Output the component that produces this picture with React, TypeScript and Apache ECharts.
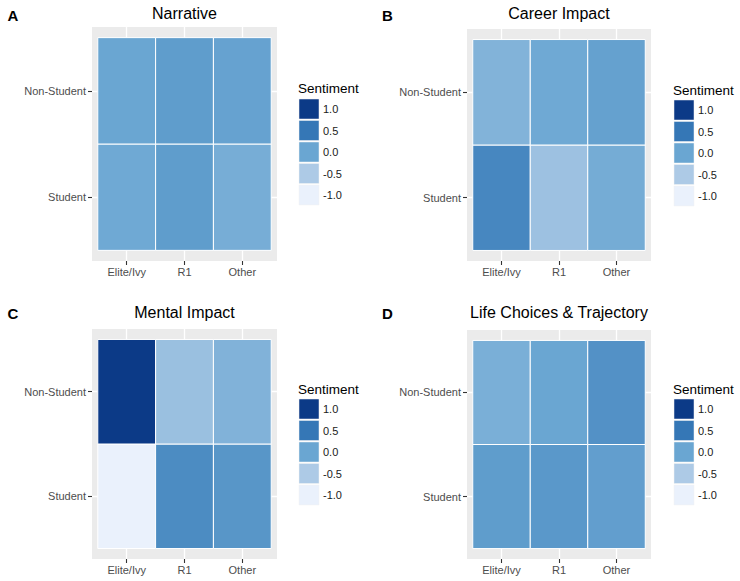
import React, { useEffect, useRef } from "react";
import * as echarts from "echarts";

const schools = ["Elite/Ivy", "R1", "Other"];
const groups = ["Student", "Non-Student"];
const panelTitles = ["Narrative", "Career Impact", "Mental Impact", "Life Choices & Trajectory"];
const panelLetters = ["A", "B", "C", "D"];
// values per panel: [Student row (Elite, R1, Other), Non-Student row (Elite, R1, Other)]
const narrativeStudent = [-0.04, 0.1, -0.1];
const narrativeNonStudent = [0.0, 0.1, 0.04];
const careerStudent = [0.33, -0.38, -0.08];
const careerNonStudent = [-0.18, -0.04, 0.05];
const mentalStudent = [-1.0, 0.28, 0.17];
const mentalNonStudent = [1.0, -0.36, -0.17];
const lifeStudent = [0.1, 0.15, 0.08];
const lifeNonStudent = [-0.12, 0.0, 0.22];
const legendValues = [1.0, 0.5, 0.0, -0.5, -1.0];
const legendLabels = ["1.0", "0.5", "0.0", "-0.5", "-1.0"];
const scaleColors = ["#eaf1fc", "#adcae6", "#6aa6d2", "#3577b6", "#0c3a87"];

const panelValues = [
  [narrativeStudent, narrativeNonStudent],
  [careerStudent, careerNonStudent],
  [mentalStudent, mentalNonStudent],
  [lifeStudent, lifeNonStudent],
];

const FONT = "'Liberation Sans', Arial, Helvetica, sans-serif";

// layout per panel
const grids = [
  { left: 92, top: 27, width: 185, height: 234 },
  { left: 467, top: 29, width: 184, height: 232 },
  { left: 92, top: 329, width: 185, height: 230 },
  { left: 467, top: 330, width: 184, height: 229 },
];
const titlePos = [
  { x: 184.5, y: 13, lx: 7.5, ly: 15 },
  { x: 559, y: 13.5, lx: 382, ly: 15 },
  { x: 184.5, y: 312.5, lx: 7.5, ly: 313.5 },
  { x: 559, y: 312.5, lx: 382, ly: 313.5 },
];
const legendPos = [
  { x: 298, y: 88, bx: 299, by: 99 },
  { x: 673, y: 90, bx: 674, by: 100 },
  { x: 298, y: 389, bx: 299, by: 399 },
  { x: 673, y: 389, bx: 674, by: 399 },
];

function colorFor(v: number): string {
  const t = (v + 1) / 2 * (scaleColors.length - 1);
  const i = Math.min(scaleColors.length - 2, Math.floor(t));
  const f = t - i;
  const a = scaleColors[i], b = scaleColors[i + 1];
  const p = (c: string, k: number) => parseInt(c.slice(1 + 2 * k, 3 + 2 * k), 16);
  const ch = [0, 1, 2].map((k) => Math.round(p(a, k) + (p(b, k) - p(a, k)) * f));
  return "rgb(" + ch.join(",") + ")";
}

export default function App() {
  const ref = useRef<HTMLDivElement>(null);
  useEffect(() => {
    if (!ref.current) return;
    const chart = echarts.init(ref.current, null, { renderer: "svg" });

    const xAxes: any[] = [];
    const yAxes: any[] = [];
    const series: any[] = [];
    const graphics: any[] = [];

    grids.forEach((g, i) => {
      xAxes.push({
        type: "value",
        gridIndex: i,
        min: 0.4,
        max: 3.6,
        axisLine: { show: false },
        axisTick: { show: true, customValues: [1, 2, 3], length: 4, lineStyle: { color: "#333333", width: 1.1 } },
        axisLabel: {
          customValues: [1, 2, 3],
          formatter: (v: number) => schools[Math.round(v) - 1] || "",
          color: "#4d4d4d",
          fontSize: 11,
          fontFamily: FONT,
          margin: 5,
        },
        splitLine: { show: true, lineStyle: { color: "#ffffff", width: 1.3 } },
      });
      yAxes.push({
        type: "value",
        gridIndex: i,
        min: 0.4,
        max: 2.6,
        axisLine: { show: false },
        axisTick: { show: true, customValues: [1, 2], length: 4, lineStyle: { color: "#333333", width: 1.1 } },
        axisLabel: {
          customValues: [1, 2],
          formatter: (v: number) => groups[Math.round(v) - 1] || "",
          color: "#4d4d4d",
          fontSize: 11,
          fontFamily: FONT,
          margin: 6,
        },
        splitLine: { show: true, lineStyle: { color: "#ffffff", width: 1.3 } },
      });
      const data: number[][] = [];
      panelValues[i].forEach((row, yi) => {
        row.forEach((v, xi) => data.push([xi + 1, yi + 1, v]));
      });
      series.push({
        type: "custom",
        xAxisIndex: i,
        yAxisIndex: i,
        encode: { x: 0, y: 1 },
        data,
        renderItem: (params: any, api: any) => {
          const x = api.value(0);
          const y = api.value(1);
          const p1 = api.coord([x - 0.5, y + 0.5]);
          const p2 = api.coord([x + 0.5, y - 0.5]);
          return {
            type: "rect",
            shape: { x: p1[0], y: p1[1], width: p2[0] - p1[0], height: p2[1] - p1[1] },
            style: { fill: api.visual("color"), stroke: "#ffffff", lineWidth: 1 },
          };
        },
      });

      const tp = titlePos[i];
      graphics.push({
        type: "text",
        x: tp.x,
        y: tp.y,
        style: { text: panelTitles[i], fill: "#000000", font: "16px " + FONT, align: "center", verticalAlign: "middle" },
      });
      graphics.push({
        type: "text",
        x: tp.lx,
        y: tp.ly,
        style: { text: panelLetters[i], fill: "#000000", font: "bold 15px " + FONT, align: "left", verticalAlign: "middle" },
      });
      const lp = legendPos[i];
      graphics.push({
        type: "text",
        x: lp.x,
        y: lp.y,
        style: { text: "Sentiment", fill: "#000000", font: "13.5px " + FONT, align: "left", verticalAlign: "middle" },
      });
      legendValues.forEach((v, k) => {
        const by = lp.by + k * 21.5;
        graphics.push({
          type: "rect",
          shape: { x: lp.bx, y: by, width: 20, height: 20 },
          style: { fill: colorFor(v), stroke: "#f2f2f2", lineWidth: 0.5 },
        });
        graphics.push({
          type: "text",
          x: lp.bx + 24,
          y: by + 10,
          style: { text: legendLabels[k], fill: "#1a1a1a", font: "11px " + FONT, align: "left", verticalAlign: "middle" },
        });
      });
    });

    chart.setOption({
      animation: false,
      backgroundColor: "#ffffff",
      grid: grids.map((g) => ({
        left: g.left,
        top: g.top,
        width: g.width,
        height: g.height,
        show: true,
        backgroundColor: "#ebebeb",
        borderWidth: 0,
        containLabel: false,
      })),
      xAxis: xAxes,
      yAxis: yAxes,
      visualMap: {
        type: "continuous",
        show: false,
        min: -1,
        max: 1,
        dimension: 2,
        seriesIndex: [0, 1, 2, 3],
        inRange: { color: scaleColors },
      },
      series,
      graphic: graphics,
    });

    return () => chart.dispose();
  }, []);

  return (
    <div
      ref={ref}
      style={{ position: "absolute", left: 0, top: 0, width: 740, height: 581, background: "#ffffff" }}
    />
  );
}
